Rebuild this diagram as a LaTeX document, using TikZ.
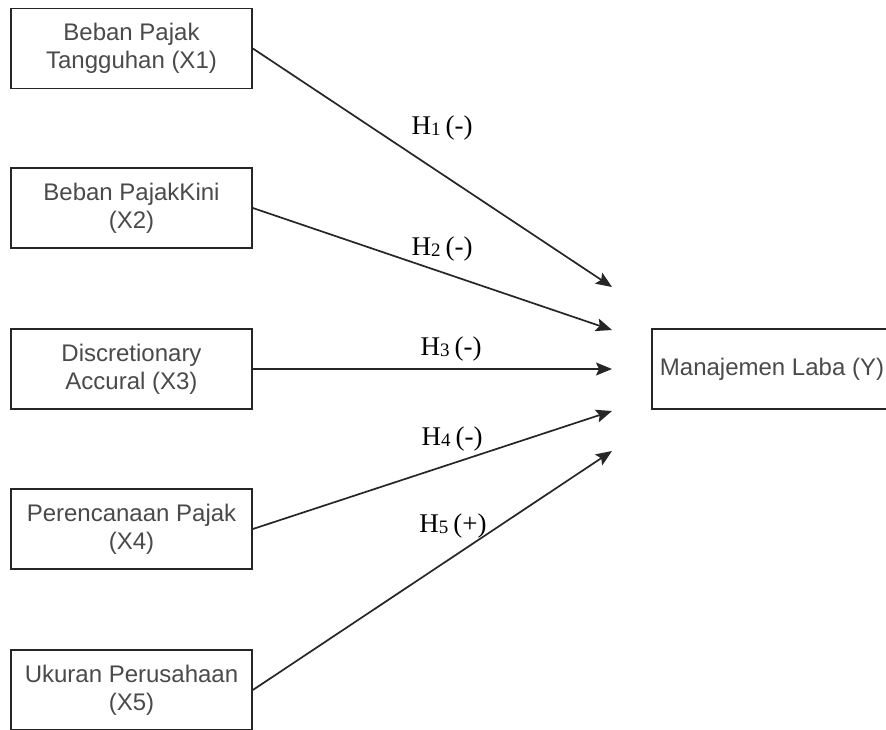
\documentclass[tikz,border=0pt]{standalone}
\usepackage{fontspec}
\setmainfont{Liberation Serif}
\setsansfont{Liberation Sans}
\usetikzlibrary{arrows.meta}
\definecolor{boxtext}{HTML}{4A4A4A}
\definecolor{linecol}{HTML}{262626}
\tikzset{
  varbox/.style={draw=linecol, line width=1.7pt, rectangle, minimum width=241pt, minimum height=80pt,
    align=center, text=boxtext, font=\sffamily\fontsize{24}{28}\selectfont, inner sep=0pt},
  arr/.style={draw=linecol, line width=1.7pt, -{Stealth[length=16pt,width=13pt,inset=3pt]}},
  hlab/.style={anchor=base, font=\rmfamily\fontsize{27}{27}\selectfont, text=black, inner sep=0pt}
}
\newcommand{\hsub}[1]{{\fontsize{19}{19}\selectfont\raisebox{-1pt}{#1}}\hspace{5pt}}
\begin{document}
\begin{tikzpicture}[x=1pt,y=-1pt]
\useasboundingbox (0,0) rectangle (886,729);
\fill[white] (0,0) rectangle (886,729);
\clip (0,0) rectangle (886,729);
\node[varbox] (b1) at (131.5,48.5) {Beban Pajak\\Tangguhan (X1)};
\node[varbox] (b2) at (131.5,208) {Beban PajakKini\\(X2)};
\node[varbox] (b3) at (131.5,369) {Discretionary\\Accural (X3)};
\node[varbox] (b4) at (131.5,529) {Perencanaan Pajak\\(X4)};
\node[varbox] (b5) at (131.5,690) {Ukuran Perusahaan\\(X5)};
\node[varbox, minimum width=240pt] (y) at (772,369) {Manajemen Laba (Y)};
\coordinate (t1) at (612,287);
\coordinate (t2) at (612,330);
\coordinate (t3) at (612,369);
\coordinate (t4) at (612,411);
\coordinate (t5) at (612,451);
\draw[arr] (b1.east) -- (t1);
\draw[arr] (b2.east) -- (t2);
\draw[arr] (b3.east) -- (t3);
\draw[arr] (b4.east) -- (t4);
\draw[arr] (b5.east) -- (t5);
\node[hlab] (h1) at (442,134) {H\hsub{1}(-)};
\node[hlab] (h2) at (442,255) {H\hsub{2}(-)};
\node[hlab] (h3) at (451,355) {H\hsub{3}(-)};
\node[hlab] (h4) at (452,445) {H\hsub{4}(-)};
\node[hlab] (h5) at (453,532) {H\hsub{5}(+)};
\end{tikzpicture}
\end{document}
